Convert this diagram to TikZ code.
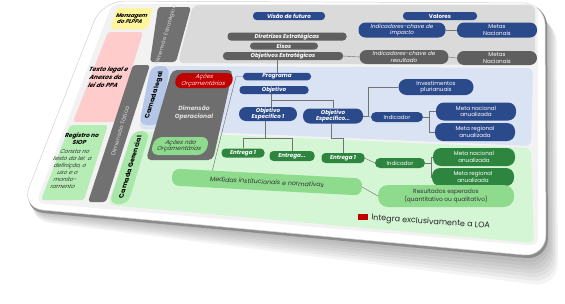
\documentclass[tikz,border=0pt]{standalone}
\usepackage{fontspec}
\setmainfont{Poppins}
\usetikzlibrary{calc}
\definecolor{navy}{HTML}{2B4A8B}
\definecolor{dgray}{HTML}{5F5F5F}
\definecolor{bargray}{HTML}{717171}
\definecolor{opgray}{HTML}{6E6E6E}
\definecolor{lgray}{HTML}{DADADA}
\definecolor{lblue}{HTML}{DAE3F3}
\definecolor{pblue}{HTML}{B4C7E7}
\definecolor{lgreen}{HTML}{D5F6D5}
\definecolor{pgreen}{HTML}{A9E6A9}
\definecolor{rgreen}{HTML}{B5EDB5}
\definecolor{mgreen}{HTML}{8EDB8E}
\definecolor{dgreen}{HTML}{2E8540}
\definecolor{dred}{HTML}{C00000}
\definecolor{yell}{HTML}{FFF59D}
\definecolor{pinkbox}{HTML}{FFCCCC}
\definecolor{inner}{HTML}{F2F2F2}
\begin{document}
\begin{tikzpicture}[x=1pt,y=-1pt,
  base/.style={inner sep=0pt, align=center, font=\fontsize{5.6}{6.4}\selectfont},
  sz/.style 2 args={minimum width=#1, minimum height=#2},
  bpill/.style={base, rounded corners=3.5pt, fill=navy, text=white},
  gpill/.style={base, rounded corners=3.5pt, fill=dgray, text=white},
  dpill/.style={base, rounded corners=4pt, fill=dgreen, text=white},
  mpill/.style={base, rounded corners=7pt, fill=mgreen, text=black!80},
  bi/.style={font=\fontsize{5.6}{6.4}\selectfont\bfseries\itshape},
  it/.style={font=\fontsize{5.6}{6.4}\selectfont\itshape},
  vtext/.style={base, cm={0.3,1,-1,0,(0,0)}},
  conn/.style={draw=black!55, line width=0.45pt}
]
\useasboundingbox (0,0) rectangle (565,303);
% shadow
\foreach \i in {1,...,8}{
  \fill[black, opacity=0.045, rounded corners=24pt] (104,2) -- (545+1.5*\i,3+2*\i) -- (546+1.5*\i,257+3.8*\i) -- (22+0.5*\i,208+1.5*\i) -- cycle;
}
% card rim and card
\fill[black!45, rounded corners=22pt] (103,2) -- (547,4) -- (548,260) -- (22,211) -- cycle;
\fill[white, rounded corners=22pt] (102,1) -- (545,3) -- (546,257) -- (21,208) -- cycle;
\draw[black!18, line width=0.5pt, rounded corners=22pt] (102,1) -- (545,3) -- (546,257) -- (21,208) -- cycle;
% inner area
\fill[inner, rounded corners=8pt] (112,4) -- (538,4) -- (538,246) -- (36,203) -- cycle;
% left column
\fill[yell, rounded corners=3pt] (117,8) -- (153,8) -- (147,29) -- (110,29) -- cycle;
\fill[pinkbox, rounded corners=3pt] (108,32) -- (143,32) -- (116,122) -- (73,122) -- cycle;
\fill[rgreen, rounded corners=3pt] (70,125) -- (108,125) -- (84,200) -- (41,200) -- cycle;
\node[base, xslant=0.3, font=\fontsize{5.4}{6.6}\selectfont\bfseries\itshape] (msg) at (131,18.5) {Mensagem\\do PLPPA};
\node[base, xslant=0.35, font=\fontsize{6}{8}\selectfont\bfseries\itshape] (texto) at (106,77) {Texto legal e\\Anexos da\\lei do PPA};
\node[base, xslant=0.35, font=\fontsize{5.8}{7.2}\selectfont\bfseries] (reg) at (81,139) {Registro no\\SIOP};
\node[base, xslant=0.35, font=\fontsize{5.6}{7}\selectfont\itshape, text=black!80] (consta) at (69,169.5) {Consta no\\texto da lei: a\\definição, o\\uso e o\\monito-\\ramento};
% dimension bars
\fill[bargray, rounded corners=3pt] (158,7) -- (191,7) -- (176,62) -- (150,62) -- cycle;
\fill[bargray, rounded corners=3pt] (133,65) -- (150,65) -- (106,202) -- (88,202) -- cycle;
\node[vtext, font=\fontsize{5.4}{6}\selectfont\itshape, text=black!15] (dest) at (166,35) {Dimensão Estratégica};
\node[vtext, font=\fontsize{5.8}{6}\selectfont\itshape, text=black!15] (dtat) at (120,131) {Dimensão Tática};
% panels
\fill[lgray, rounded corners=6pt] (193,5) -- (535,5) -- (535,65) -- (178,63) -- cycle;
\fill[lblue, rounded corners=6pt] (151,66) -- (533,68) -- (531,146) -- (139,129) -- cycle;
\fill[lgreen, rounded corners=6pt] (133,131) -- (531,148) -- (534,243) -- (108,205) -- cycle;
\fill[pblue, rounded corners=8pt] (151,66) -- (170,66) -- (160,125) -- (139,125) -- cycle;
\fill[pgreen, rounded corners=8pt] (133,131) -- (150,131) -- (128,204) -- (109,204) -- cycle;
\node[vtext, font=\fontsize{6.4}{7}\selectfont\bfseries] (clegal) at (154.5,95) {Camada legal};
\node[vtext, font=\fontsize{6.4}{7}\selectfont\bfseries] (cger) at (130,167) {Camada Gerencial};
% operational dimension
\fill[opgray, rounded corners=5pt] (172,70) -- (233,70) -- (213,160) -- (146,160) -- cycle;
\node[base, text=black!12, font=\fontsize{6}{8}\selectfont\bfseries\itshape] (dop) at (194,113) {Dimensão\\Operacional};
\node[base, fill=dred, text=red!15, rounded corners=7pt, xslant=0.2, sz={57pt}{15pt}, font=\fontsize{5.8}{6.6}\selectfont\itshape] (acoes) at (204,80.5) {Ações\\Orçamentárias};
\node[base, fill=mgreen, text=black!80, rounded corners=8pt, xslant=0.25, sz={55pt}{18pt}, font=\fontsize{5.8}{6.6}\selectfont\itshape] (acoesn) at (180,146) {Ações não\\Orçamentárias};
% strategic nodes
\node[bpill, bi, sz={72pt}{8pt}] (visao) at (289,16) {Visão de futuro};
\node[bpill, font=\fontsize{5.6}{6.4}\selectfont\bfseries, sz={74pt}{8pt}] (valores) at (440,16) {Valores};
\node[bpill, it, sz={87pt}{15pt}, rounded corners=7pt] (ikimp) at (402,30) {Indicadores-chave de\\impacto};
\node[bpill, sz={80pt}{15pt}, rounded corners=7pt] (metas1) at (497,30) {Metas\\Nacionais};
\node[gpill, bi, sz={119pt}{8pt}] (diretrizes) at (287,36.5) {Diretrizes Estratégicas};
\node[gpill, bi, sz={68pt}{7pt}] (eixos) at (284,46) {Eixos};
\node[gpill, bi, sz={120pt}{8pt}] (objest) at (283,56) {Objetivos Estratégicos};
\node[gpill, it, sz={89pt}{14pt}, rounded corners=7pt] (ikres) at (404,57) {Indicadores-chave de\\resultado};
\node[gpill, sz={80pt}{14pt}, rounded corners=7pt] (metas2) at (497,58) {Metas\\Nacionais};
% legal layer nodes
\node[bpill, bi, sz={68pt}{7.5pt}] (programa) at (277,76.5) {Programa};
\node[bpill, bi, sz={69pt}{8pt}] (objetivo) at (274,90) {Objetivo};
\node[bpill, bi, sz={58pt}{14pt}, rounded corners=7pt] (oe1) at (268,114) {Objetivo\\Específico 1};
\node[bpill, bi, sz={60pt}{15pt}, rounded corners=7pt] (oe2) at (333,116) {Objetivo\\Específico...};
\node[bpill, sz={75pt}{16pt}, rounded corners=8pt] (invest) at (436,87) {Investimentos\\plurianuais};
\node[bpill, sz={52pt}{10pt}, rounded corners=5pt] (ind1) at (397,117) {Indicador};
\node[bpill, sz={80pt}{18pt}, rounded corners=8pt] (mn1) at (476,111.5) {Meta nacional\\anualizada};
\node[bpill, sz={80pt}{18pt}, rounded corners=8pt] (mr1) at (475,132) {Meta regional\\anualizada};
% managerial layer nodes
\node[dpill, bi, sz={43pt}{9pt}] (e1) at (243,153) {Entrega 1};
\node[dpill, bi, sz={45pt}{10pt}] (e2) at (292,156) {Entrega...};
\node[dpill, bi, sz={43pt}{10pt}] (e3) at (343,158) {Entrega 1};
\node[dpill, sz={50pt}{10pt}, rounded corners=5pt] (ind2) at (400,163) {Indicador};
\node[dpill, sz={82pt}{18pt}, rounded corners=8pt] (mn2) at (474,157) {Meta nacional\\anualizada};
\node[dpill, sz={82pt}{18pt}, rounded corners=8pt] (mr2) at (473,177) {Meta regional\\anualizada};
\node[mpill, sz={190pt}{17pt}, rotate=-3, font=\fontsize{6.3}{7}\selectfont\itshape] (medidas) at (267,182) {Medidas institucionais e normativas};
\node[mpill, sz={136pt}{22pt}, rounded corners=10pt, font=\fontsize{5.9}{8}\selectfont] (result) at (446,196) {Resultados esperados\\(quantitativo ou qualitativo)};
% legend
\node[fill=dred, inner sep=0pt, sz={10pt}{6pt}] (lgbox) at (363,216.5) {};
\node[base, anchor=west, rotate=-4, font=\fontsize{8}{9}\selectfont, text=black!85] (lgtext) at ($(lgbox.east)+(3,1.5)$) {Integra exclusivamente a LOA};
% connectors
\coordinate (pb) at (236,76.5);
\coordinate (bo) at (271,100);
\coordinate (be) at (265,138);
\coordinate (be2) at (331,138);
\draw[conn] (ikimp.east) -- (metas1.west);
\draw[conn] (objest.east) -- (ikres.west);
\draw[conn] (ikres.east) -- (metas2.west);
\draw[conn] (programa.north) -- (programa.north |- objest.south);
\draw[conn] (programa.west) -- (pb) -- ($(medidas.north west)+(40,2)$);
\draw[conn] (objetivo.south -| bo) -- (bo) -- (bo -| oe2.north) -- (oe2.north);
\draw[conn] (bo) -- (bo |- oe1.north);
\draw[conn] (oe2.east) -- ++(5,0) |- (invest.west);
\draw[conn] (oe2.east) -- (ind1.west);
\draw[conn] (ind1.east) -- ++(6,0) coordinate (ib1);
\draw[conn] (ib1) |- (mn1.west);
\draw[conn] (ib1) |- (mr1.west);
\draw[conn] (oe1.south -| be) -- (be);
\draw[conn] (e1.north) -- (e1.north |- be) -- (e2.north |- be) -- (e2.north);
\draw[conn] (oe2.south -| be2) -- (be2) -- (be2 -| e3.north) -- (e3.north);
\draw[conn] (e3.east) -- (ind2.west);
\draw[conn] (ind2.east) -- ++(6,0) coordinate (ib2);
\draw[conn] (ib2) |- (mn2.west);
\draw[conn] (ib2) |- (mr2.west);
\draw[conn] (medidas.east) -- (result.west);
\end{tikzpicture}
\end{document}
